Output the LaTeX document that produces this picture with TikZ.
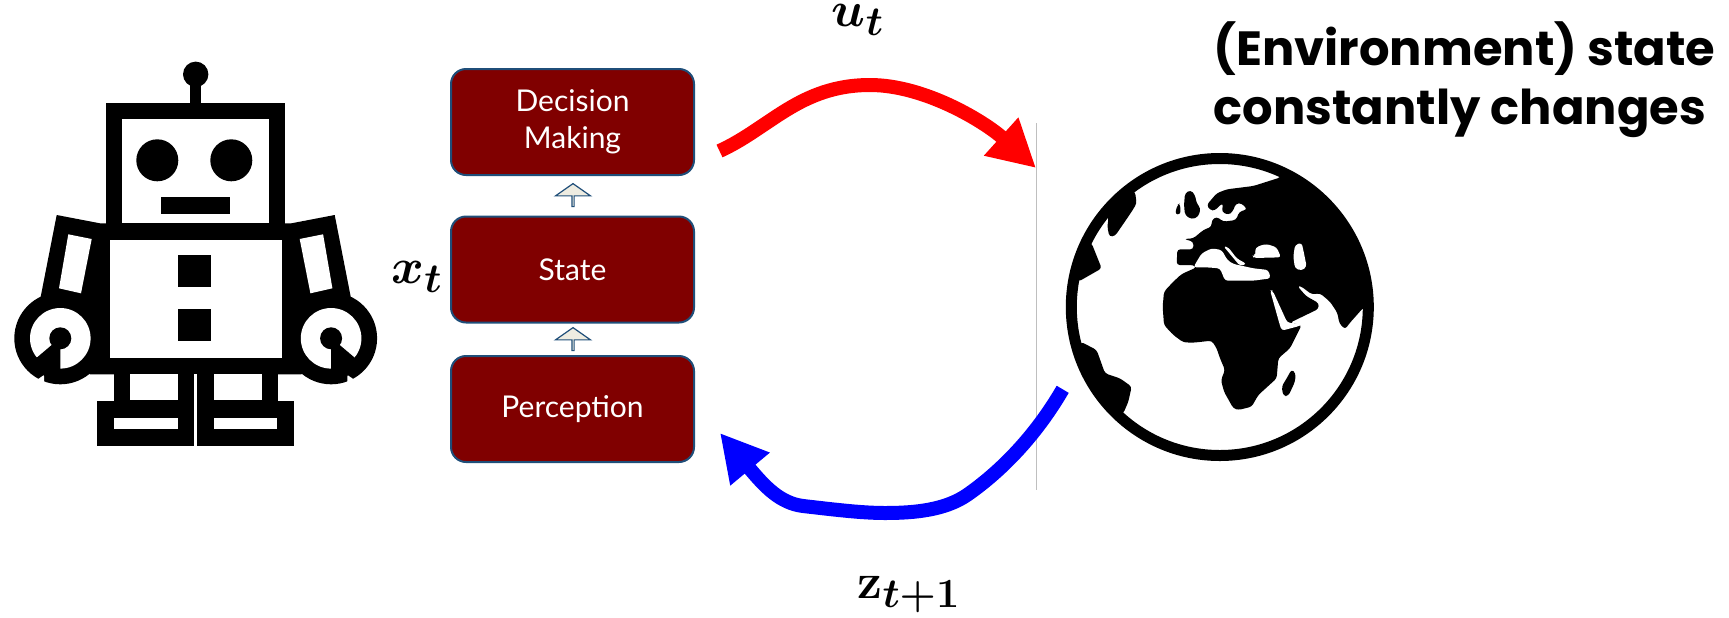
\documentclass[tikz,border=0pt]{standalone}
\usepackage{amsmath,amssymb}
\usepackage[no-math]{fontspec}
\setmainfont{Lato}
\newfontfamily\titlefont{Poppins}
\usetikzlibrary{arrows.meta,shapes,positioning}
\definecolor{boxred}{RGB}{128,0,0}
\definecolor{boxline}{RGB}{31,78,121}
\definecolor{arrowfill}{RGB}{238,236,225}
\definecolor{wallgray}{RGB}{191,191,191}
\tikzset{
  statebox/.style={draw=boxline, line width=1pt, fill=boxred, rounded corners=7.5pt, minimum width=121.5pt, minimum height=53pt, inner sep=0pt, align=center, text=white, font=\fontsize{15}{18.3}\selectfont},
  updarrow/.style={draw=boxline, line width=0.6pt, fill=arrowfill, single arrow, shape border rotate=90, inner sep=0pt, minimum height=11.5pt, minimum width=17.5pt, single arrow head extend=4.5pt, single arrow tip angle=110},
  flow/.style={line width=7pt, -{Triangle[length=23.5pt,width=24pt]}},
  mathlabel/.style={font=\Huge\boldmath, inner sep=0pt}
}

\begin{document}
\begin{tikzpicture}[x=0.5pt,y=-0.5pt]
  \useasboundingbox (0,0) rectangle (1729,617);

  % Robot: both sides
  \foreach \s/\d in {1/0pt,-1/195.7pt}{
    \begin{scope}[xshift=\d,xscale=\s]
      \fill (56.7,215) -- (100,223.3) -- (120,223.3) -- (120,374.3) -- (90,374.3) -- (60,340) -- (40.7,296.7) -- cycle;
      \fill (60.3,338.3) circle[radius=46];
      \fill[white] (35.7,380.7) -- (44,375) -- (44,392) -- (33,392) -- cycle;
      \fill[white] (68.3,234.3) -- (91.7,239) -- (81,293.3) -- (59,288.3) -- cycle;
      \fill[white] (60.3,338.3) circle[radius=30.3];
      \fill (36.7,357.7) -- (51.7,345) -- (60.3,348) -- (60.3,368.3) -- (60.3,376) -- (44,376) -- cycle;
      \fill (60.3,338.3) circle[radius=11];
      % Leg and foot
      \fill (113.7,374) rectangle (194.2,401);
      \fill[white] (129.7,374.3) rectangle (177.7,400);
      \fill (97.3,400.7) rectangle (194.2,445.7);
      \fill[white] (114,417.7) rectangle (177.7,429.3);
    \end{scope}
  }

  % Robot: head and body
  \fill (195.7,74.3) circle[radius=12.7];
  \fill (190,80) rectangle (201,104);
  \fill (106,103) rectangle (285,240);
  \fill[white] (122.3,119.3) rectangle (268.7,222.7);
  \fill (157.3,160.3) circle[radius=21];
  \fill (231.3,160.3) circle[radius=21];
  \fill (161,197.3) rectangle (230,213.7);
  \fill (106,223) rectangle (285.4,374.3);
  \fill[white] (109.7,240) rectangle (281.7,357.7);
  \fill (178.3,255.3) rectangle (210.7,287.3);
  \fill (178.3,309) rectangle (210.7,341.3);

  % Agent blocks
  \node[statebox] (decision) at (572.5,122) {Decision\\Making};
  \node[statebox] (state) at (572.5,269.5) {State};
  \node[statebox] (perception) at (572.5,409) {Perception};
  \node[updarrow] (arrowupper) at (573,195.5) {};
  \node[updarrow] (arrowlower) at (573,339.5) {};

  % Globe
  \begin{scope}
    \clip (1219.8,307) circle[radius=150];
    \begin{scope}[shift={(1020,160)},scale=1/3,rounded corners=1.5pt]
      % Eurasia and Africa
      \fill (782,52) -- (700,78) -- (620,88) -- (590,100) -- (560,135) -- (570,150) -- (585,152) -- (600,135) -- (610,130) -- (605,155) -- (625,165) -- (638,155) -- (648,130) -- (665,130) -- (682,148) -- (658,155) -- (648,180) -- (610,185) -- (590,170) -- (575,180) -- (575,200) -- (550,210) -- (520,235) -- (492,237) -- (520,245) -- (520,268) -- (472,268) -- (470,315) -- (520,315) -- (530,322) -- (485,342) -- (460,365) -- (432,395) -- (428,440) -- (432,495) -- (460,525) -- (490,547) -- (520,548) -- (575,542) -- (590,565) -- (600,595) -- (615,630) -- (603,660) -- (612,695) -- (640,745) -- (655,750) -- (695,740) -- (715,705) -- (770,655) -- (775,595) -- (810,565) -- (830,525) -- (845,495) -- (810,488) -- (895,447) -- (897,430) -- (858,408) -- (832,378) -- (842,378) -- (875,403) -- (900,400) -- (930,425) -- (952,458) -- (958,490) -- (975,508) -- (990,488) -- (1030,443) -- (1100,430) -- (1100,0) -- (800,-20) -- cycle;
      % Seas
      \fill[white] (520,322) -- (530,305) -- (545,280) -- (575,265) -- (605,270) -- (622,300) -- (640,312) -- (655,315) -- (700,325) -- (745,330) -- (752,355) -- (700,362) -- (615,362) -- (600,325) -- (560,322) -- cycle;
      \fill[white] (610,258) -- (625,262) -- (650,295) -- (680,312) -- (660,318) -- (645,300) -- cycle;
      \fill[white] (703,270) -- (715,258) -- (740,252) -- (770,262) -- (783,292) -- (700,294) -- (698,285) -- (710,282) -- cycle;
      \fill[white] (825,255) -- (845,248) -- (852,280) -- (860,320) -- (845,332) -- (825,325) -- (820,290) -- cycle;
      \fill[white] (750,390) -- (758,392) -- (802,488) -- (848,492) -- (838,498) -- (785,512) -- (778,490) -- cycle;
      % Islands
      \fill (465,163) -- (472,135) -- (480,130) -- (482,163) -- cycle;
      \fill (495,100) -- (512,90) -- (525,105) -- (530,130) -- (542,145) -- (535,170) -- (515,178) -- (495,165) -- (492,135) -- cycle;
      \fill (815,628) -- (827,640) -- (825,665) -- (805,708) -- (790,708) -- (785,680) -- (800,655) -- cycle;
      % Americas
      \fill (345,95) -- (350,130) -- (335,155) -- (285,228) -- (268,230) -- (262,200) -- (266,172) -- (250,150) -- (320,85) -- cycle;
      \fill (215,250) -- (245,325) -- (175,365) -- (140,300) -- (190,240) -- cycle;
      \fill (182,545) -- (230,570) -- (255,640) -- (300,655) -- (335,680) -- (325,725) -- (310,760) -- (270,770) -- (180,620) -- cycle;
    \end{scope}
  \end{scope}
  \draw[line width=5.5pt] (1219.8,307) circle[radius=148.5];

  % Wall
  \coordinate (walltop) at (1036.3,123);
  \coordinate (wallbottom) at (1036.3,490);
  \draw[wallgray, line width=0.6pt] (walltop) -- (wallbottom);

  % Action and observation
  \coordinate (redtail) at (719.5,151);
  \coordinate (redtip) at (1036,168);
  \coordinate (bluetail) at (1062.7,389.3);
  \coordinate (bluetip) at (720,433);
  \draw[flow, red] (redtail) .. controls (770,128) and (800,85) .. (870,85) .. controls (925,85) and (985,122) .. (redtip);
  \draw[flow, blue] (bluetail) .. controls (1035,437) and (1000,472) .. (967,495) .. controls (945,510) and (915,513) .. (885,513) .. controls (860,513) and (830,509) .. (803,506) .. controls (780,503) and (765,487) .. (bluetip);

  % Labels
  \node[mathlabel] (actionlabel) at (858,20) {$u_t$};
  \node[mathlabel] (statelabel) at (417,277) {$x_t$};
  \node[mathlabel] (observationlabel) at (909,595) {$\mathbf{z}_{t+1}$};
  \node[anchor=west, align=left, inner sep=0pt, font=\titlefont\bfseries\fontsize{24}{29.5}\selectfont] (headline) at (1213,80) {(Environment) state\\constantly changes};
\end{tikzpicture}
\end{document}
